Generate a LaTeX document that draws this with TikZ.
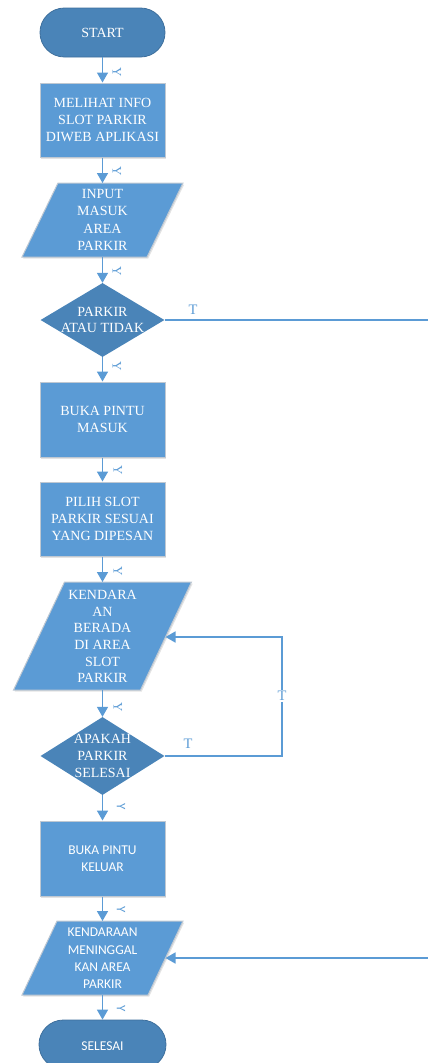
\documentclass[tikz,border=0pt]{standalone}
\usepackage{fontspec}
\setmainfont{Liberation Serif}
\newfontfamily\sansf{Carlito}
\usetikzlibrary{arrows.meta,shapes.geometric,shadows}
\definecolor{lightfill}{HTML}{5B9BD5}
\definecolor{darkfill}{HTML}{4A84B8}
\definecolor{termborder}{HTML}{3E6F9C}
\definecolor{boxborder}{HTML}{BFC8D2}
\definecolor{connc}{HTML}{5B9BD5}
\tikzset{
  txt/.style={text=white, align=center, inner sep=0pt, font=\fontsize{14}{16.7}\selectfont},
  stxt/.style={text=white, align=center, inner sep=0pt, font=\sansf\fontsize{13.5}{17.3}\selectfont},
  softshadow/.style={drop shadow={opacity=0.22, shadow xshift=1.2pt, shadow yshift=-1.6pt, fill=gray}},
  term/.style={rectangle, rounded corners=24.4pt, minimum width=125pt, minimum height=49pt,
    fill=darkfill, draw=termborder, line width=0.8pt, inner sep=0pt},
  proc/.style={rectangle, minimum width=125pt, minimum height=74pt, fill=lightfill,
    draw=boxborder, line width=1pt, inner sep=0pt, softshadow},
  para/.style={fill=lightfill, draw=boxborder, line width=1pt, softshadow},
  dec/.style={diamond, minimum width=124pt, minimum height=74pt, fill=darkfill, inner sep=0pt},
  conn/.style={draw=connc, line width=1.6pt, -{Triangle[length=10pt,width=11pt]}},
  plain/.style={draw=connc, line width=1.6pt},
  ylab/.style={text=connc, rotate=-90, inner sep=0pt, font=\fontsize{13}{13}\selectfont},
  tlab/.style={text=connc, inner sep=1pt, font=\fontsize{14.5}{14.5}\selectfont},
}
\begin{document}
\begin{tikzpicture}[x=1pt,y=-1pt]
\useasboundingbox (0,0) rectangle (428,1063);

% START
\node[term] (start) at (102.5,32.5) {};
\node[txt] (startt) at (start) {START};

% MELIHAT
\node[proc] (b1) at (102.5,120) {};
\node[txt] (b1t) at (b1) {MELIHAT INFO\\SLOT PARKIR\\DIWEB APLIKASI};

% INPUT parallelogram
\path[para] (58,183) -- (183,183) -- (147,257) -- (22,257) -- cycle;
\coordinate (p1top) at (102.5,183);
\coordinate (p1bot) at (102.5,257);
\node[txt, font=\fontsize{14}{17.3}\selectfont] (p1t) at (102.5,220) {INPUT\\MASUK\\AREA\\PARKIR};

% decision 1
\node[dec] (d1) at (102.5,320) {};
\node[txt] (d1t) at (d1) {PARKIR\\ATAU TIDAK};
\coordinate (e1) at (428,320);

% BUKA PINTU MASUK
\node[proc, minimum height=75pt] (b2) at (102.5,419.5) {};
\node[txt] (b2t) at (b2) {BUKA PINTU\\MASUK};

% PILIH SLOT
\node[proc] (b3) at (102.5,519) {};
\node[txt] (b3t) at (b3) {PILIH SLOT\\PARKIR SESUAI\\YANG DIPESAN};

% KENDARAAN BERADA parallelogram
\path[para] (64.5,582) -- (191.5,582) -- (140.5,690) -- (13.5,690) -- cycle;
\coordinate (p2top) at (102.5,582);
\coordinate (p2bot) at (102.5,690);
\coordinate (p2r) at (165.5,637);
\node[txt, font=\fontsize{14}{16.6}\selectfont] (p2t) at (102.5,636.5) {KENDARA\\AN\\BERADA\\DI AREA\\SLOT\\PARKIR};

% decision 2
\node[dec, minimum height=78pt] (d2) at (102.5,756) {};
\node[txt] (d2t) at (d2) {APAKAH\\PARKIR\\SELESAI};
\coordinate (lc1) at (282,756);
\coordinate (lc2) at (282,637);

% BUKA PINTU KELUAR
\node[proc, minimum height=75pt] (b4) at (102.5,858.5) {};
\node[stxt] (b4t) at (b4) {BUKA PINTU\\KELUAR};

% KENDARAAN MENINGGALKAN parallelogram
\path[para] (57,921) -- (183,921) -- (148,995) -- (22,995) -- cycle;
\coordinate (p3top) at (102.5,921);
\coordinate (p3bot) at (102.5,995);
\coordinate (p3r) at (165.5,958);
\coordinate (e2) at (428,958);
\node[stxt] (p3t) at (102.5,958.5) {KENDARAAN\\MENINGGAL\\KAN AREA\\PARKIR};

% SELESAI
\node[term, minimum width=127pt] (end) at (102.5,1044.5) {};
\node[stxt] (endt) at (102.5,1046) {SELESAI};

% connectors
\draw[conn] (start.south) -- (b1.north);
\draw[conn] (b1.south) -- (p1top);
\draw[conn] (p1bot) -- (d1.north);
\draw[plain] (d1.east) -- (e1);
\draw[conn] (d1.south) -- (b2.north);
\draw[conn] (b2.south) -- (b3.north);
\draw[conn] (b3.south) -- (p2top);
\draw[conn] (p2bot) -- (d2.north);
\draw[conn] (d2.east) -- (lc1) -- (lc2) -- (p2r);
\draw[conn] (d2.south) -- (b4.north);
\draw[conn] (b4.south) -- (p3top);
\draw[conn] (e2) -- (p3r);
\draw[conn] (p3bot) -- (end.north);

% labels
\node[ylab] (y1) at (117,72) {Y};
\node[ylab] (y2) at (117,171) {Y};
\node[ylab] (y3) at (117,271) {Y};
\node[ylab] (y4) at (117,366) {Y};
\node[ylab] (y5) at (118,470) {Y};
\node[ylab] (y6) at (118,571) {Y};
\node[ylab] (y7) at (118,707) {Y};
\node[ylab, font=\sansf\fontsize{13}{13}\selectfont] (y8) at (121,807) {Y};
\node[ylab, font=\sansf\fontsize{13}{13}\selectfont] (y9) at (121,910) {Y};
\node[ylab, font=\sansf\fontsize{13}{13}\selectfont] (y10) at (121,1009) {Y};
\node[tlab] (t1) at (193,309.5) {T};
\node[tlab] (t2) at (188,744) {T};
\node[tlab, fill=white] (t3) at (282,696) {T};
\end{tikzpicture}
\end{document}
